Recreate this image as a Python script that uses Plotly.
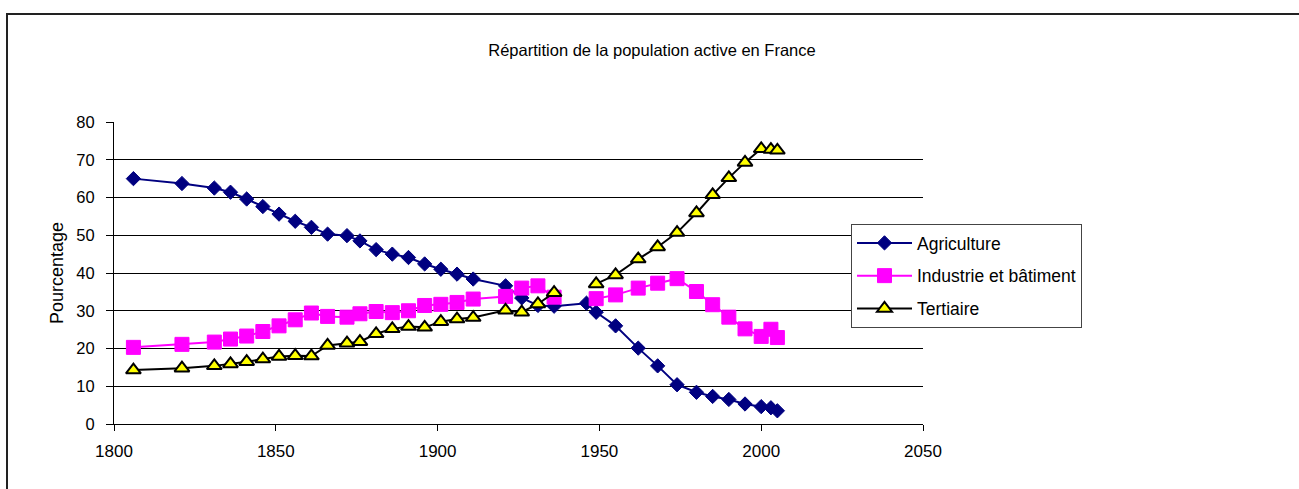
import plotly.graph_objects as go

years = [1806, 1821, 1831, 1836, 1841, 1846, 1851, 1856, 1861, 1866, 1872, 1876,
         1881, 1886, 1891, 1896, 1901, 1906, 1911, 1921, 1926, 1931, 1936, 1946,
         1949, 1955, 1962, 1968, 1974, 1980, 1985, 1990, 1995, 2000, 2003, 2005]

agriculture = [65.0, 63.7, 62.5, 61.4, 59.6, 57.6, 55.6, 53.7, 52.1, 50.3, 49.9, 48.5,
               46.2, 45.0, 44.1, 42.4, 41.0, 39.7, 38.4, 36.6, 33.4, 31.4, 31.2, 32.0,
               29.6, 26.0, 20.1, 15.4, 10.4, 8.4, 7.3, 6.5, 5.3, 4.6, 4.3, 3.5]

industrie = [20.3, 21.1, 21.7, 22.5, 23.3, 24.5, 26.0, 27.6, 29.4, 28.5, 28.3, 29.2,
             29.8, 29.5, 30.0, 31.4, 31.7, 32.2, 33.1, 33.8, 36.0, 36.6, 33.6, None,
             33.2, 34.2, 36.0, 37.3, 38.5, 35.1, 31.6, 28.3, 25.2, 23.2, 25.1, 22.9]

tertiaire = [14.3, 14.8, 15.4, 15.9, 16.5, 17.2, 17.9, 18.1, 18.0, 20.8, 21.4, 21.8,
             23.9, 25.2, 25.8, 25.6, 27.1, 27.8, 28.2, 30.1, 29.6, 31.8, 34.8, None,
             37.1, 39.5, 43.7, 46.9, 50.7, 55.9, 60.7, 65.2, 69.3, 72.9, 72.7, 72.5]

series_names = ["Agriculture", "Industrie et bâtiment", "Tertiaire"]
title_text = "Répartition de la population active en France"
y_title = "Pourcentage"

FONT = "Liberation Sans, Arial, sans-serif"
W, H = 1299, 489
L, R, T, B = 114, 376, 122, 65
pw = W - L - R
ph = H - T - B

fig = go.Figure()
fig.add_trace(go.Scatter(
    x=years, y=agriculture, name=series_names[0], mode="lines+markers",
    line=dict(color="#000080", width=2),
    marker=dict(symbol="diamond", size=11, color="#000080",
                line=dict(color="#000080", width=1)),
    legendgroup="a"))
fig.add_trace(go.Scatter(
    x=years, y=industrie, name=series_names[1], mode="lines+markers",
    line=dict(color="#FF00FF", width=2),
    marker=dict(symbol="square", size=14, color="#FF00FF",
                line=dict(color="#FF00FF", width=1)),
    legendgroup="b"))
fig.add_trace(go.Scatter(
    x=years, y=tertiaire, name=series_names[2], mode="lines+markers",
    line=dict(color="#000000", width=2),
    marker=dict(symbol="triangle-up", size=13, color="#FFFF00",
                line=dict(color="#000000", width=2)),
    legendgroup="c"))

fig.update_layout(
    width=W, height=H, autosize=False,
    margin=dict(l=L, r=R, t=T, b=B, pad=0),
    paper_bgcolor="white", plot_bgcolor="white",
    font=dict(family=FONT, size=16, color="#000000"),
    title=dict(text=title_text, font=dict(family=FONT, size=16.5, color="#000000"),
               xref="container", yref="container", x=652 / W, y=1 - 50 / H,
               xanchor="center", yanchor="middle"),
    showlegend=True,
    legend=dict(x=(851 - L) / pw, y=(H - B - 224) / ph, xanchor="left", yanchor="top",
                bgcolor="white", bordercolor="#444444", borderwidth=1,
                font=dict(family=FONT, size=17.5, color="#000000"),
                traceorder="grouped", tracegroupgap=7, itemwidth=55),
    xaxis=dict(range=[1800, 2050], dtick=50, tick0=1800, showgrid=False,
               showline=True, linecolor="#000000", linewidth=1,
               ticks="outside", ticklen=6, tickcolor="#000000", zeroline=False,
               ticklabelstandoff=6, tickfont=dict(size=17)),
    yaxis=dict(range=[0, 80], dtick=10, tick0=0, showgrid=True, gridcolor="#000000",
               gridwidth=1, showline=True, linecolor="#000000", linewidth=1,
               ticks="outside", ticklen=7, tickcolor="#000000", zeroline=False,
               ticklabelstandoff=8, tickfont=dict(size=16.5)),
    annotations=[dict(text=y_title, textangle=-90, xref="paper", yref="paper",
                      x=(57 - L) / pw, y=0.5, xanchor="center", yanchor="middle",
                      showarrow=False, font=dict(family=FONT, size=18))],
    shapes=[dict(type="rect", xref="paper", yref="paper",
                 x0=(7 - L) / pw, x1=(1310 - L) / pw,
                 y0=(H - B - 500) / ph, y1=(H - B - 14) / ph,
                 line=dict(color="#222222", width=2), fillcolor="rgba(0,0,0,0)",
                 layer="below")],
)

fig.write_html("out.html", config={"displayModeBar": False},
               post_script="document.body.style.margin='0';")
